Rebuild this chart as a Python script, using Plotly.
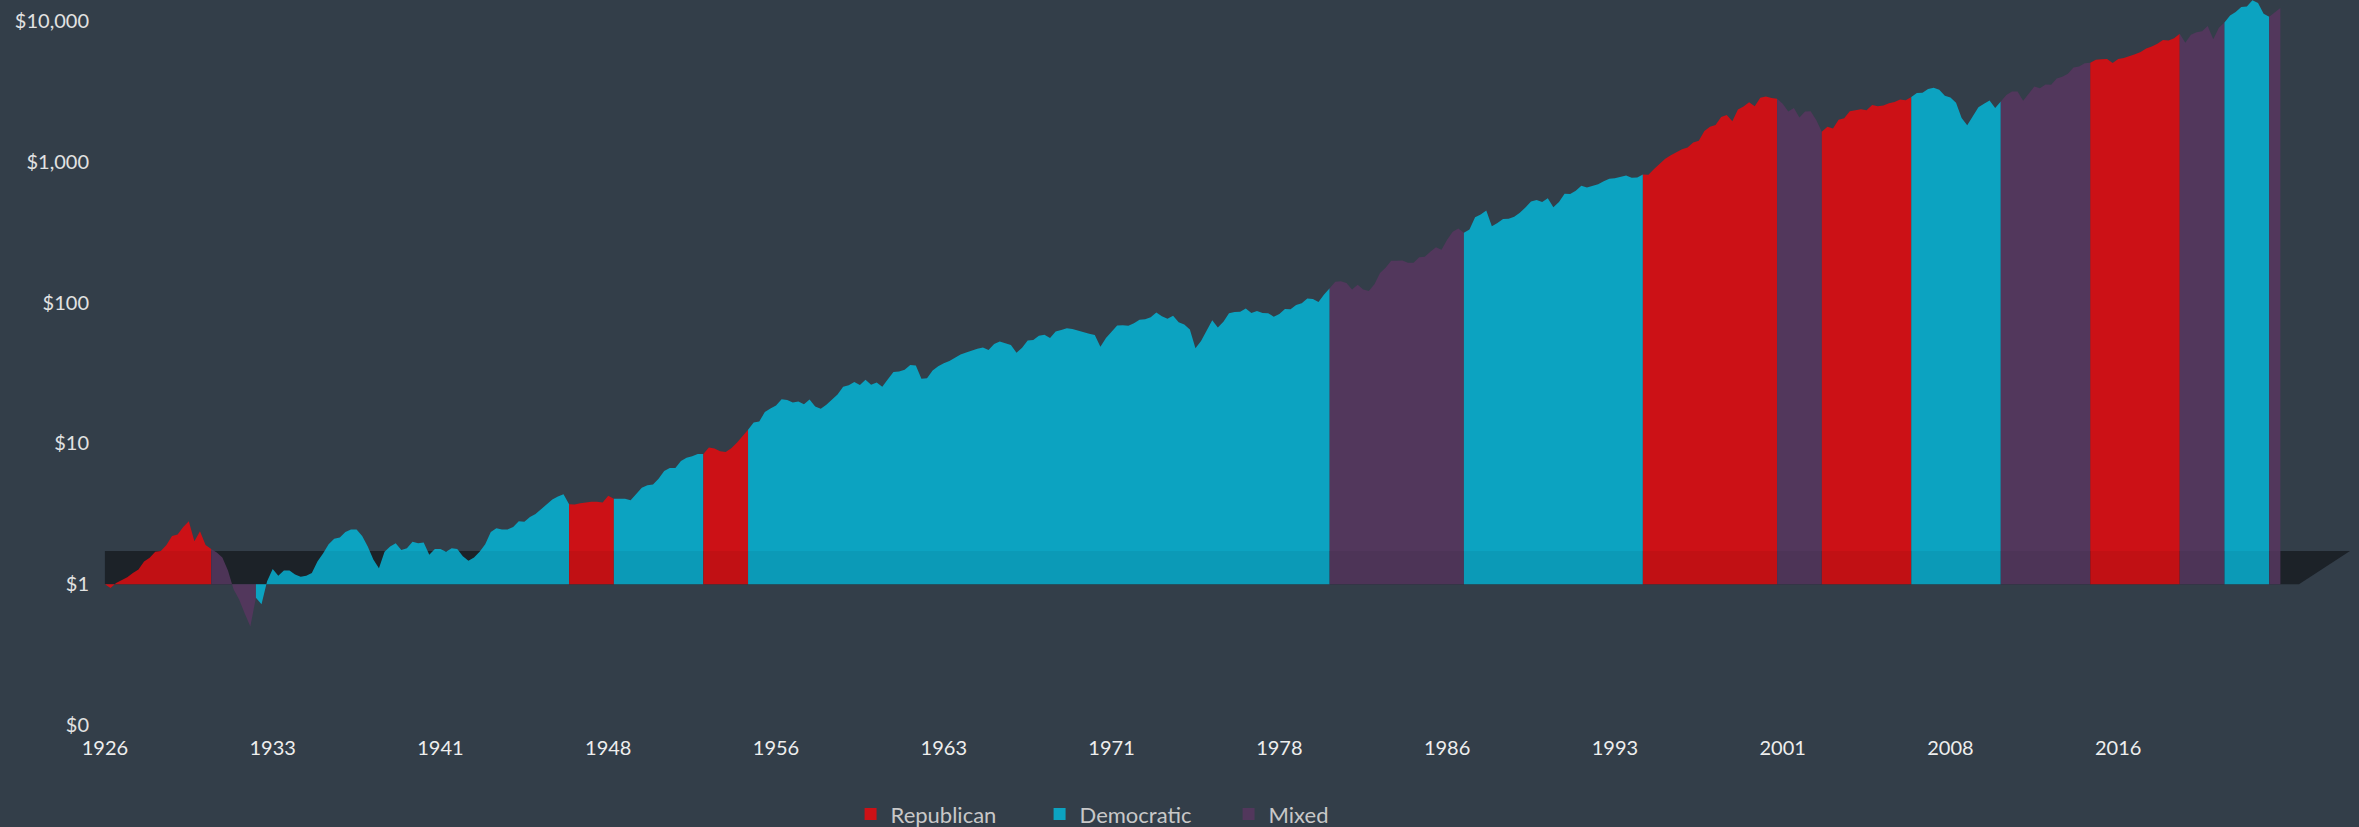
import plotly.graph_objects as go

# ---------------- data ----------------
# Growth of $1 invested in US large-cap stocks, quarterly samples starting 1926.0
start_year = 1926.0
step = 0.25
values_1926_1949 = [
    1.00, 0.94, 1.02, 1.07,
    1.12, 1.20, 1.27, 1.45,
    1.54, 1.70, 1.72, 1.90,
    2.20, 2.25, 2.55, 2.80,
    2.02, 2.38, 1.90, 1.78,
    1.68, 1.55, 1.25, 0.92,
    0.78, 0.62, 0.50, 0.80,
    0.72, 1.05, 1.28, 1.15,
    1.25, 1.25, 1.17, 1.13,
    1.15, 1.20, 1.45, 1.65,
    1.92, 2.10, 2.15, 2.35,
    2.45, 2.45, 2.20, 1.85,
    1.50, 1.30, 1.70, 1.85,
    1.95, 1.75, 1.80, 2.00,
    1.95, 1.98, 1.62, 1.78,
    1.78, 1.70, 1.80, 1.78,
    1.58, 1.47, 1.55, 1.70,
    1.92, 2.35, 2.50, 2.45,
    2.45, 2.55, 2.80, 2.78,
    3.00, 3.15, 3.40, 3.70,
    4.00, 4.20, 4.35, 3.70,
    3.68, 3.75, 3.80, 3.85,
    3.85, 3.80, 4.25, 4.05,
    4.07, 4.05, 3.95, 4.35,
]
values_1950_1974 = [
    4.85, 5.05, 5.10, 5.60,
    6.36, 6.70, 6.70, 7.50,
    7.90, 8.10, 8.40, 8.40,
    9.35, 9.20, 8.80, 8.70,
    9.25, 10.1, 11.3, 12.5,
    14.1, 14.3, 16.7, 17.7,
    18.6, 20.6, 20.3, 19.5,
    19.8, 19.0, 20.5, 18.3,
    17.6, 18.8, 20.3, 22.2,
    25.3, 25.9, 27.3, 26.0,
    28.3, 26.1, 27.1, 25.3,
    28.5, 32.2, 32.4, 33.4,
    36.1, 35.7, 28.8, 29.0,
    33.0, 35.3, 37.1, 38.4,
    40.5, 42.8, 44.3, 45.9,
    47.1, 48.0, 46.0, 50.7,
    53.0, 51.5, 50.0, 44.0,
    47.7, 53.9, 54.3, 58.2,
    59.1, 56.0, 62.3, 64.0,
    65.6, 64.9, 63.0, 61.4,
    60.1, 58.9, 48.6, 56.1,
    62.5, 68.7, 69.0, 68.6,
    71.4, 75.5, 76.1, 78.7,
    85.0, 80.0, 76.9, 80.6,
    72.5, 69.9, 64.3, 47.3,
]
values_1975_1999 = [
    53.3, 64.0, 74.8, 66.5,
    73.1, 84.0, 85.9, 86.2,
    90.6, 84.4, 87.0, 84.5,
    84.1, 79.4, 83.0, 90.2,
    89.6, 96.2, 98.9, 106.8,
    106.1, 101.1, 114.3, 126.4,
    140.5, 142.0, 138.0, 124.0,
    133.6, 124.0, 121.0, 135.0,
    162.2, 177.0, 198.0, 198.0,
    198.7, 192.0, 192.0, 210.0,
    211.2, 230.0, 247.0, 237.0,
    279.1, 318.0, 336.0, 313.0,
    330.7, 403.0, 423.0, 451.0,
    348.0, 368.0, 393.0, 394.0,
    406.5, 435.0, 473.0, 523.0,
    534.5, 518.0, 551.0, 475.0,
    517.5, 592.0, 590.0, 622.0,
    675.6, 658.0, 671.0, 692.0,
    727.4, 759.0, 763.0, 783.0,
    800.1, 770.0, 773.0, 811.0,
    810.5, 889.0, 974.0, 1051.0,
    1113.9, 1174.0, 1226.0, 1264.0,
    1370.9, 1408.0, 1653.0, 1777.0,
    1828.3, 2083.0, 2152.0, 1938.0,
    2350.9, 2468.0, 2642.0, 2477.0,
]
values_2000_2023 = [
    2845.6, 2911.0, 2834.0, 2807.0,
    2586.5, 2280.0, 2413.0, 2059.0,
    2279.1, 2285.0, 1979.0, 1637.0,
    1775.3, 1720.0, 1985.0, 2037.0,
    2284.8, 2323.0, 2363.0, 2319.0,
    2533.4, 2479.0, 2513.0, 2604.0,
    2657.6, 2769.0, 2730.0, 2885.0,
    3077.3, 3097.0, 3291.0, 3357.0,
    3246.4, 2940.0, 2860.0, 2621.0,
    2045.4, 1820.0, 2108.0, 2436.0,
    2586.5, 2725.0, 2412.0, 2679.0,
    2976.1, 3153.0, 3156.0, 2718.0,
    3038.9, 3420.0, 3326.0, 3537.0,
    3525.2, 3897.0, 4010.0, 4221.0,
    4667.1, 4752.0, 5000.0, 5056.0,
    5306.2, 5357.0, 5371.0, 5025.0,
    5379.6, 5452.0, 5588.0, 5797.0,
    6023.0, 6389.0, 6586.0, 6881.0,
    7337.9, 7282.0, 7532.0, 8112.0,
    7016.2, 7973.0, 8316.0, 8457.0,
    9225.1, 7416.0, 8940.0, 9738.0,
    10922.8, 11597.0, 12590.0, 12663.0,
    14057.5, 13409.0, 11252.0, 10703.0,
    11512.7, 12376.0,
]

# Control periods (start, end in decimal years) and party
period_start = [1926.0, 1930.75, 1932.75, 1946.75, 1948.75, 1952.75, 1954.75, 1980.75, 1986.75,
                1994.75, 2000.75, 2002.75, 2006.75, 2010.75, 2014.75, 2018.75, 2020.75, 2022.75]
period_end = [1930.75, 1932.75, 1946.75, 1948.75, 1952.75, 1954.75, 1980.75, 1986.75, 1994.75,
              2000.75, 2002.75, 2006.75, 2010.75, 2014.75, 2018.75, 2020.75, 2022.75, 2023.25]
period_party = ["Republican", "Mixed", "Democratic", "Republican", "Democratic", "Republican",
                "Democratic", "Mixed", "Democratic", "Republican", "Mixed", "Republican",
                "Democratic", "Mixed", "Republican", "Mixed", "Democratic", "Mixed"]

legend_names = ["Republican", "Democratic", "Mixed"]
party_colors = {"Republican": "#CC1116", "Democratic": "#0CA3C1", "Mixed": "#52375C"}

x_tickvals = [1926, 1933.5, 1941, 1948.5, 1956, 1963.5, 1971, 1978.5, 1986, 1993.5, 2001, 2008.5, 2016]
x_ticktext = ["1926", "1933", "1941", "1948", "1956", "1963", "1971", "1978", "1986", "1993",
              "2001", "2008", "2016"]
y_tickvals = [0.1, 1, 10, 100, 1000, 10000]
y_ticktext = ["$0", "$1", "$10", "$100", "$1,000", "$10,000"]

# floor band (3D base) corners
band_x = [1926.0, 2024.08, 2026.36, 1926.0, 1926.0]
band_y = [1.0, 1.0, 1.72, 1.72, 1.0]

# ---------------- build ----------------
values = values_1926_1949 + values_1950_1974 + values_1975_1999 + values_2000_2023
years = [start_year + step * i for i in range(len(values))]

BG = "#333E49"
fig = go.Figure()

fig.add_trace(go.Scatter(x=band_x, y=band_y, mode="lines", fill="toself",
                         fillcolor="#1E242B", line=dict(width=0), showlegend=False,
                         hoverinfo="skip"))

for s, e, p in zip(period_start, period_end, period_party):
    xs = [x for x in years if s - 1e-9 <= x <= e + 1e-9]
    ys = [v for x, v in zip(years, values) if s - 1e-9 <= x <= e + 1e-9]
    fig.add_trace(go.Scatter(x=[xs[0], xs[-1]], y=[1, 1], mode="lines",
                             line=dict(width=0, color=party_colors[p]),
                             showlegend=False, hoverinfo="skip"))
    fig.add_trace(go.Scatter(x=xs, y=ys, mode="lines", fill="tonexty",
                             fillcolor=party_colors[p],
                             line=dict(width=0, color=party_colors[p]),
                             name=p, showlegend=False))

fig.add_trace(go.Scatter(x=band_x, y=band_y, mode="lines", fill="toself",
                         fillcolor="rgba(0,0,0,0.05)", line=dict(width=0), showlegend=False,
                         hoverinfo="skip"))

for name in legend_names:
    fig.add_trace(go.Scatter(x=[None], y=[None], mode="markers", name=name,
                             marker=dict(symbol="square", size=12, color=party_colors[name])))

fig.update_layout(
    width=2359, height=827,
    paper_bgcolor=BG, plot_bgcolor=BG,
    margin=dict(l=100, r=5, t=0, b=102, autoexpand=False),
    font=dict(family="Lato, sans-serif", color="#DDDDDD", size=20),
    showlegend=True,
    legend=dict(orientation="h", x=0.333, xanchor="left", y=-0.123, yanchor="middle",
                traceorder="normal",
                font=dict(size=22, color="#C8C8C8"), entrywidth=144, entrywidthmode="pixels",
                bgcolor="rgba(0,0,0,0)"),
)
fig.update_xaxes(range=[1925.78, 2026.54], showgrid=False, zeroline=False, showline=False,
                 tickmode="array", tickvals=x_tickvals, ticktext=x_ticktext,
                 tickfont=dict(size=20, color="#EEEEEE"), ticklabelstandoff=9)
fig.update_yaxes(type="log", range=[-1, 4.149], showgrid=False, zeroline=False, showline=False,
                 tickmode="array", tickvals=y_tickvals, ticktext=y_ticktext,
                 tickfont=dict(size=20, color="#E2E2E2"), ticklabelstandoff=10)

fig.write_html("out.html", config={"displayModeBar": False},
               post_script="document.body.style.margin='0';document.body.style.background='#333E49';")
